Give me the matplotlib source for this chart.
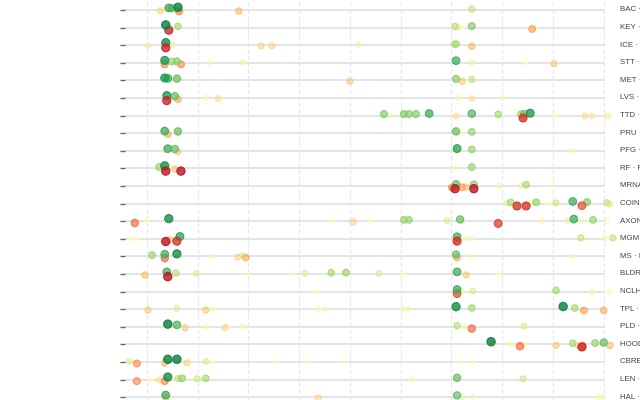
import matplotlib
matplotlib.use('Agg')
import matplotlib.pyplot as plt
import numpy as np

tickers = ["BAC", "KEY", "ICE", "STT", "MET", "LVS", "TTD", "PRU", "PFG", "RF", "MRNA", "COIN",
           "AXON", "MGM", "MS", "BLDR", "NCLH", "TPL", "PLD", "HOOD", "CBRE", "LEN", "HAL"]
names = ["Bank of America", "KeyCorp", "Intercontinental Exchange", "State Street", "MetLife",
         "Las Vegas Sands", "The Trade Desk", "Prudential Financial", "Principal Financial",
         "Regions Financial", "Moderna", "Coinbase", "Axon Enterprise", "MGM Resorts",
         "Morgan Stanley", "Builders FirstSource", "Norwegian Cruise Line", "Texas Pacific Land",
         "Prologis", "Robinhood", "CBRE Group", "Lennar", "Halliburton"]

# event positions per row (grid every 10)
pos = [
    [2.6, 3.5, 4.3, 4.9, 6.1, 5.9, 6.3, 6.5, 18.1, 64.0],
    [3.7, 3.7, 4.3, 6.1, 60.7, 61.3, 62.1, 64.0, 75.9, 76.5],
    [0.2, 3.7, 3.7, 3.7, 5.1, 22.5, 24.6, 41.6, 60.5, 60.9, 64.0],
    [3.5, 3.5, 4.9, 5.9, 6.7, 12.4, 18.9, 60.9, 64.0, 74.5, 80.2],
    [3.5, 4.1, 4.1, 5.9, 5.9, 40.0, 60.9, 61.3, 62.1, 64.0],
    [3.9, 3.9, 5.5, 6.1, 11.6, 14.0, 61.3, 64.0, 70.0],
    [46.7, 47.9, 50.6, 51.6, 53.0, 55.6, 60.9, 64.0, 69.2, 73.7, 74.1, 74.3, 75.5, 80.6, 86.3, 87.7, 90.8],
    [3.5, 3.9, 4.1, 6.1, 6.1, 60.9, 61.1, 62.1, 64.0],
    [3.5, 4.1, 5.5, 6.1, 61.1, 61.1, 64.0, 83.9],
    [2.4, 3.5, 3.7, 4.9, 5.5, 6.7, 60.9, 64.0],
    [60.1, 60.7, 60.9, 61.3, 62.1, 62.9, 64.4, 64.4, 69.4, 73.7, 74.7, 79.6],
    [70.9, 71.7, 72.9, 74.7, 75.9, 76.7, 79.0, 80.6, 83.9, 85.7, 86.7, 90.6, 91.2],
    [-2.4, 0.0, 4.3, 36.5, 40.6, 44.1, 50.6, 51.6, 59.1, 61.7, 62.1, 69.2, 77.8, 82.8, 84.1, 85.7, 87.9, 90.6],
    [-3.2, -2.0, 3.7, 4.5, 5.9, 6.5, 61.1, 61.1, 61.1, 62.9, 64.0, 85.5, 90.2, 91.8],
    [1.0, 3.5, 3.5, 5.9, 12.6, 17.9, 18.9, 19.5, 60.9, 61.1, 64.0, 83.9],
    [-0.4, 3.9, 4.1, 4.1, 5.7, 9.7, 19.5, 28.8, 31.1, 36.3, 39.2, 45.7, 50.6, 61.1, 62.9, 69.2],
    [33.3, 61.1, 61.1, 61.1, 62.1, 64.2, 80.6, 87.7, 91.2],
    [0.2, 5.9, 11.6, 13.0, 33.7, 35.1, 50.4, 51.4, 60.9, 60.9, 64.0, 82.0, 84.3, 86.1, 90.0],
    [3.7, 4.1, 5.9, 5.9, 7.5, 11.6, 15.4, 16.0, 18.9, 61.1, 62.5, 64.0, 74.3],
    [67.8, 68.0, 71.7, 73.5, 74.3, 80.6, 83.9, 84.7, 85.7, 85.9, 88.3, 90.0, 91.2],
    [-3.5, -2.0, 3.5, 4.1, 5.9, 6.1, 7.9, 11.6, 12.8, 25.4, 31.5, 39.0, 61.3, 64.2],
    [-2.0, 0.6, 2.4, 3.5, 4.1, 5.5, 6.1, 6.9, 9.9, 11.6, 52.4, 61.1, 61.3, 74.1],
    [3.7, 3.7, 33.7, 61.1, 62.1, 64.2, 88.9, 89.8],
]
# signal score per event (-1 red .. +1 green)
score = [
    [-0.25, 0.05, 0.7, 0.6, 0.9, 0.1, -0.5, -0.3, -0.35, 0.3],
    [0.9, 0.05, -0.85, 0.4, 0.35, 0.1, 0.0, 0.5, -0.45, 0.0],
    [-0.15, 0.85, 0.1, -0.85, 0.1, -0.25, -0.25, 0.1, 0.3, 0.4, -0.35],
    [0.8, -0.5, 0.45, 0.5, -0.5, 0.05, 0.1, 0.7, 0.1, 0.0, -0.3],
    [0.8, 0.7, 0.05, 0.6, 0.0, -0.3, 0.5, 0.0, -0.3, 0.3],
    [0.8, -0.85, 0.6, -0.4, 0.05, -0.2, 0.05, -0.2, 0.05],
    [0.5, 0.05, 0.5, 0.5, 0.5, 0.7, -0.2, 0.65, 0.4, 0.45, -0.8, 0.55, 0.8, 0.0, -0.2, -0.15, -0.15],
    [0.7, 0.1, -0.4, 0.6, -0.1, 0.6, 0.05, 0.0, 0.45],
    [0.1, 0.7, 0.6, -0.3, 0.75, 0.1, 0.45, -0.05],
    [0.45, 0.85, -0.9, 0.05, -0.3, -0.9, 0.05, 0.45],
    [-0.5, -0.9, 0.6, 0.05, -0.45, -0.3, 0.5, -0.9, 0.05, 0.1, 0.4, 0.0],
    [0.15, 0.4, -0.8, -0.8, 0.1, 0.45, 0.0, 0.25, 0.7, -0.7, 0.5, 0.3, -0.2],
    [-0.6, 0.0, 0.85, 0.0, -0.25, 0.0, 0.45, 0.45, 0.2, 0.6, -0.1, -0.75, 0.05, 0.1, 0.7, 0.05, 0.45, 0.05],
    [0.0, 0.0, -0.9, -0.3, -0.8, 0.75, 0.7, -0.4, -0.8, 0.05, 0.05, 0.3, 0.05, 0.3],
    [0.45, 0.7, -0.6, 0.85, 0.05, -0.25, 0.2, -0.4, 0.6, -0.4, 0.05, 0.05],
    [-0.35, 0.7, 0.1, -0.9, 0.35, 0.2, 0.0, 0.0, 0.2, 0.4, 0.45, 0.2, 0.0, 0.7, -0.3, 0.0],
    [0.0, 0.7, 0.2, -0.7, 0.05, 0.2, 0.4, 0.05, 0.05],
    [-0.3, 0.2, -0.3, 0.05, 0.05, 0.05, 0.05, 0.05, 0.85, 0.1, 0.4, 0.9, 0.4, -0.45, -0.4],
    [0.05, 0.9, 0.65, 0.0, -0.3, 0.05, -0.25, 0.0, 0.05, 0.35, 0.05, -0.6, 0.2],
    [0.9, -0.1, 0.05, -0.6, 0.05, -0.3, 0.4, -0.2, -0.85, -0.45, 0.45, 0.6, -0.35],
    [0.2, -0.5, -0.35, 0.9, 0.9, 0.05, -0.25, 0.2, 0.0, 0.0, 0.0, 0.0, 0.0, 0.0],
    [-0.5, 0.0, -0.2, -0.5, 0.85, 0.0, 0.3, 0.45, 0.25, 0.4, 0.05, 0.6, 0.0, 0.25],
    [0.7, -0.3, -0.25, 0.6, 0.1, 0.05, 0.05, 0.05],
]

fig = plt.figure(figsize=(6.4, 4), dpi=100)
ax = fig.add_axes([125 / 640, 0, 480 / 640, 1])
ax.set_xlim(-4.33, 90.25)
ax.set_ylim(22.16, -0.568)

for v in range(0, 100, 10):
    ax.axvline(v, color='#e6e6ee', lw=0.8, ls=(0, (4, 2)), zorder=0)
ax.hlines(range(len(tickers)), -4.33, 90.25, color='#e2e2e2', lw=1.3, zorder=1)

cmap = plt.get_cmap('RdYlGn')
xs, ys, cs = [], [], []
for i in range(len(tickers)):
    for x, s in zip(pos[i], score[i]):
        xs.append(x)
        ys.append(i - s * 0.17)
        cs.append(s)
order = np.argsort(np.abs(cs))
xs = np.array(xs)[order]
ys = np.array(ys)[order]
cs = np.array(cs)[order]
cols = cmap((cs + 1) / 2)
mag = np.abs(cs)
face = cols.copy()
face[:, 3] = 0.45 + 0.4 * mag
edge = cols.copy()
edge[:, 3] = 0.8 + 0.15 * mag
sizes = 11 + 27 * mag
ax.scatter(xs, ys, s=sizes, c=face, edgecolors=edge, linewidths=0.8, zorder=3, clip_on=False)

ax.set_yticks(range(len(tickers)))
ax.set_yticklabels([])
ax.set_xticks([])
ax.tick_params(axis='y', length=3.5, width=1, color='#666')
for sp in ax.spines.values():
    sp.set_visible(False)

for i, (t, n) in enumerate(zip(tickers, names)):
    ax.text(1.031, i, t + " · " + n, transform=ax.get_yaxis_transform(),
            ha='left', va='center', fontsize=5.7, color='#444',
            family=['Liberation Sans Narrow', 'Liberation Sans'])

fig.savefig('out.png', dpi=100)
